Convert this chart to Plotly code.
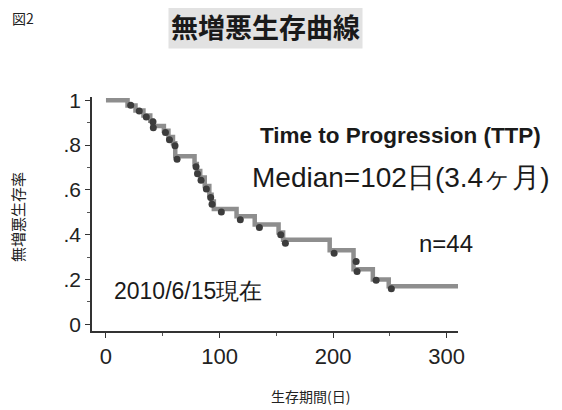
import plotly.graph_objects as go

# ---- data ----
step_days = [19, 26, 33, 39, 41, 51, 55, 59, 61, 78, 80, 83, 87, 91, 93, 95, 115, 131, 152, 156, 197, 218, 235, 249]
step_surv = [0.977, 0.955, 0.932, 0.909, 0.886, 0.864, 0.836, 0.808, 0.75, 0.716, 0.684, 0.655, 0.617, 0.578, 0.548,
             0.515, 0.482, 0.446, 0.41, 0.378, 0.331, 0.246, 0.2, 0.17]
end_day = 310

dot_days = [21.8, 29.3, 35.5, 41.4, 41.7, 52.4, 55.9, 60.8, 62.6, 79.3, 80.6, 83.7, 88.4, 92.2, 93.4, 101.6,
            118.3, 135.1, 153.9, 158.0, 200.9, 220.3, 221.1, 237.9, 251.3]
dot_surv = [0.978, 0.952, 0.926, 0.904, 0.878, 0.856, 0.824, 0.797, 0.737, 0.704, 0.672, 0.643, 0.604, 0.566,
            0.536, 0.501, 0.467, 0.432, 0.400, 0.362, 0.317, 0.280, 0.236, 0.197, 0.159]

y_tickvals = [0, 0.2, 0.4, 0.6, 0.8, 1.0]
y_ticktext = ["0", ".2", ".4", ".6", ".8", "1"]
y_minor = [0.1, 0.3, 0.5, 0.7, 0.9]
x_tickvals = [0, 100, 200, 300]
x_ticktext = ["0", "100", "200", "300"]
x_minor = [50, 150, 250]

title_text = "無増悪生存曲線"
fig_label = "図2"
x_title = "生存期間(日)"
y_title = "無増悪生存率"
note_ttp = "Time to Progression (TTP)"
note_median = "Median=102日(3.4ヶ月)"
note_n = "n=44"
note_date = "2010/6/15現在"

# ---- layout geometry (pixels; the page body adds an 8px offset) ----
OFF = 8
W, H = 562, 410
PLOT_L, PLOT_R, PLOT_T, PLOT_B = 92, 458, 97, 331   # plot box in reference-picture pixels
L = PLOT_L - OFF
T = PLOT_T - OFF
PW = PLOT_R - PLOT_L
PH = PLOT_B - PLOT_T
R = W - L - PW
B = H - T - PH


def px(x):
    return (x - PLOT_L) / PW


def py(y):
    return (PLOT_B - y) / PH


FONT = "Liberation Sans, Arial, sans-serif"
CJK = "Noto Sans CJK JP, sans-serif"

line_x = [0] + step_days + [end_day]
line_y = [1.0] + step_surv + [step_surv[-1]]

fig = go.Figure()
fig.add_trace(go.Scatter(x=line_x, y=line_y, mode="lines", line=dict(shape="hv", color="#8e8e8e", width=4.5),
                         hoverinfo="skip", showlegend=False))
fig.add_trace(go.Scatter(x=dot_days, y=dot_surv, mode="markers",
                         marker=dict(color="#3c3c3c", size=7, line=dict(width=0)), showlegend=False))

fig.update_layout(
    width=W, height=H, margin=dict(l=L, r=R, t=T, b=B, pad=0),
    paper_bgcolor="white", plot_bgcolor="white",
    xaxis=dict(range=[-12.3, 310], showgrid=False, zeroline=False, showline=True, linecolor="#333", linewidth=1.5,
               ticks="outside", ticklen=5, tickcolor="#333", tickvals=x_tickvals, ticktext=x_ticktext,
               tickfont=dict(family=FONT, size=22, color="#222"),
               minor=dict(tickvals=x_minor, ticks="outside", ticklen=3, tickcolor="#555")),
    yaxis=dict(range=[-0.03, 1.015], showgrid=False, zeroline=False, showline=True, linecolor="#333", linewidth=1.5,
               ticks="outside", ticklen=5, tickcolor="#333", tickvals=y_tickvals, ticktext=y_ticktext,
               tickfont=dict(family=FONT, size=21, color="#222"),
               minor=dict(tickvals=y_minor, ticks="outside", ticklen=3, tickcolor="#555")),
)

ann = [
    dict(text=f"<b>{title_text}</b>", x=px(265.5), y=py(26.5), font=dict(family=CJK, size=27, color="#1a1a1a"),
         bgcolor="#e2e2e2", borderpad=2),
    dict(text=fig_label, x=px(23), y=py(18), font=dict(family=CJK, size=14, color="#222")),
    dict(text=x_title, x=px(310), y=py(396), font=dict(family=CJK, size=14, color="#222")),
    dict(text=y_title, x=px(17), y=py(217), textangle=-90, font=dict(family=CJK, size=15, color="#222")),
    dict(text=f"<b>{note_ttp}</b>", x=px(400), y=py(135), font=dict(family=FONT, size=22.5, color="#1a1a1a")),
    dict(text=note_median, x=px(400), y=py(177), font=dict(family=FONT, size=28, color="#1a1a1a")),
    dict(text=note_n, x=px(446), y=py(243), font=dict(family=FONT, size=24, color="#1a1a1a")),
    dict(text=note_date, x=px(188), y=py(291), font=dict(family=FONT, size=23, color="#1a1a1a")),
]
for a in ann:
    a.update(xref="paper", yref="paper", showarrow=False, xanchor="center", yanchor="middle")
fig.update_layout(annotations=ann)

fig.write_html("out.html")
